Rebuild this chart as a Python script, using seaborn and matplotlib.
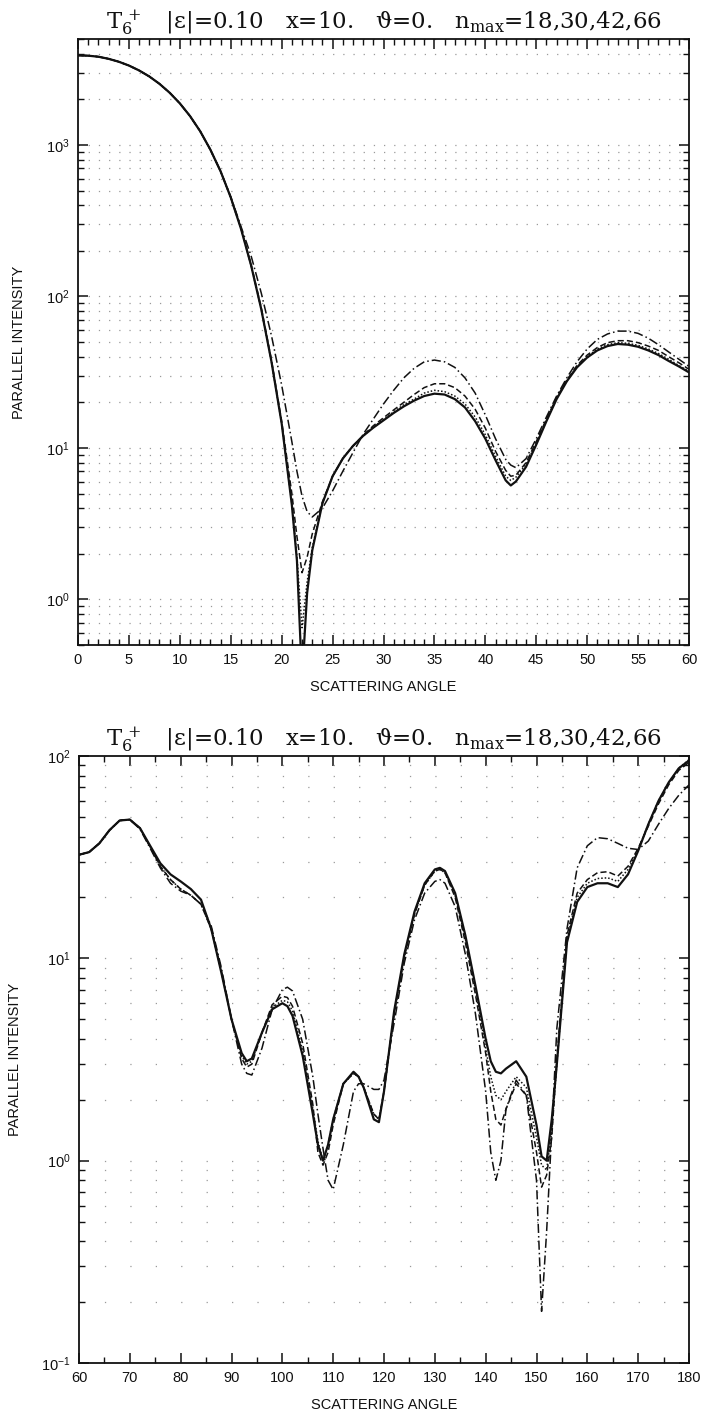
import numpy as np
import pandas as pd
import matplotlib
matplotlib.use("Agg")
import matplotlib.pyplot as plt
from matplotlib.ticker import MultipleLocator, LogLocator, NullFormatter
import seaborn as sns

# ---------------- data: top panel (0-60 deg) ----------------
ang_top = [0, 1, 2, 3, 4, 5, 6, 7, 8, 9, 10, 11, 12, 13, 14, 15, 16, 17, 18, 19, 20,
           21, 21.5, 22, 22.5, 23, 24, 25, 26, 27, 28, 29, 30, 31, 32, 33, 34, 35, 36,
           37, 38, 39, 40, 41, 42, 42.5, 43, 44, 45, 46, 47, 48, 49, 50, 51, 52, 53, 54, 55,
           56, 57, 58, 59, 60]
top_n66 = [3900, 3880, 3820, 3700, 3540, 3340, 3100, 2830, 2530, 2210, 1880, 1550, 1230,
           930, 670, 450, 280, 160, 82, 37, 14.5,
           4.2, 1.8, 0.3, 1.1, 2.1, 4.3, 6.5, 8.5, 10.3, 12, 13.6, 15.2, 17, 18.8, 20.5,
           22, 22.8, 22.5, 21, 18.5, 15, 11.5, 8.3, 6.1, 5.65, 6.0, 7.5, 10.5, 15, 21, 27.5,
           34, 39.5, 44, 47, 48.5, 48, 46.5, 44, 41, 37.5, 34.5, 31.5]
top_n42 = [3900, 3880, 3820, 3700, 3540, 3340, 3100, 2830, 2530, 2210, 1880, 1550, 1230,
           930, 670, 450, 280, 160, 82, 37, 14.5,
           4.3, 1.9, 0.65, 1.3, 2.2, 4.3, 6.5, 8.5, 10.3, 12, 13.7, 15.4, 17.3, 19.3, 21,
           23, 24, 23.5, 22, 19.5, 16, 12.2, 8.8, 6.5, 6.1, 6.4, 7.8, 10.7, 15.2, 21.3, 27.8,
           34.5, 40, 45, 48, 49.5, 49, 47.5, 45, 42, 38.5, 35, 32]
top_n30 = [3900, 3880, 3820, 3700, 3540, 3340, 3100, 2830, 2530, 2210, 1880, 1550, 1230,
           930, 670, 450, 282, 162, 84, 38, 15,
           5.0, 2.6, 1.5, 1.9, 2.7, 4.4, 6.5, 8.5, 10.3, 12.1, 14, 15.8, 17.8, 20, 22.5,
           25, 26.5, 26.5, 25, 22, 18, 13.5, 9.5, 7.1, 6.5, 6.6, 8.0, 11, 15.5, 21.5, 28,
           35, 41, 46, 49.5, 51, 51, 49.5, 47, 44, 40, 36.5, 33]
top_n18 = [3900, 3880, 3820, 3700, 3540, 3340, 3100, 2830, 2530, 2210, 1880, 1550, 1230,
           930, 670, 455, 290, 185, 105, 55, 26,
           11, 7, 4.8, 3.8, 3.5, 4.0, 5.2, 7.0, 9.3, 12.3, 15.5, 19.5, 24, 29, 33.5,
           37, 38, 37, 34, 29, 23, 16.5, 11.5, 8.4, 7.7, 7.4, 8.5, 11.5, 16, 22, 29,
           37, 45, 52, 56.5, 59, 59, 57, 53, 48, 43, 38.5, 34.5]

# ---------------- data: bottom panel (60-180 deg) ----------------
ang_bot = [60, 62, 64, 66, 68, 70, 72, 74, 76, 78, 80, 82, 84, 86, 88, 90, 92, 93, 94, 96,
           98, 100, 101, 102, 104, 106, 107, 108, 109, 110, 112, 114, 115, 116, 118, 119,
           120, 122, 124, 126, 128, 130, 131, 132, 134, 136, 138, 140, 141, 142, 143, 144,
           146, 148, 150, 151, 152, 153, 154, 156, 158, 160, 162, 164, 166, 168, 170, 172,
           174, 176, 178, 180]
bot_n66 = [32.5, 33.5, 37, 43, 48, 48.5, 44, 36, 29.5, 26, 24, 22, 19.5, 14, 8.5, 5.0, 3.4,
           3.1, 3.2, 4.3, 5.6, 6.0, 5.8, 5.2, 3.3, 1.7, 1.2, 1.0, 1.2, 1.6, 2.4, 2.75, 2.6,
           2.3, 1.6, 1.55, 2.2, 5.5, 10.5, 17, 23.5, 27.5, 28, 27, 21, 13, 7.3, 4.0, 3.1,
           2.75, 2.7, 2.85, 3.1, 2.6, 1.5, 1.05, 1.0, 1.6, 3.0, 12, 19, 22.5, 23.5, 23.5,
           22.5, 26, 34, 46, 60, 74, 87, 95]
bot_n42 = [32.5, 33.5, 37, 43, 48, 48.5, 44, 35.5, 28.5, 24.5, 22, 20.5, 18.5, 14, 8.6, 5.0, 3.3,
           3.0, 3.1, 4.3, 5.7, 6.2, 6.1, 5.5, 3.5, 1.8, 1.25, 1.0, 1.2, 1.6, 2.4, 2.7, 2.6,
           2.3, 1.7, 1.6, 2.2, 5.4, 10.3, 16.7, 23, 27, 27.5, 26.5, 20.5, 12.5, 7.0, 3.6, 2.6,
           2.1, 2.0, 2.2, 2.6, 2.3, 1.3, 0.95, 0.9, 1.4, 3.0, 12.5, 20, 23.5, 24.8, 25,
           24, 27.5, 34.5, 46, 60, 74, 87, 96]
bot_n30 = [32.5, 33.5, 37, 43, 48, 48.5, 44, 35.5, 28.5, 24.5, 22, 20.5, 18.5, 14, 8.7, 5.0, 3.2,
           2.9, 3.0, 4.3, 5.9, 6.5, 6.4, 5.8, 3.8, 1.9, 1.1, 0.95, 1.1, 1.5, 2.4, 2.7, 2.6,
           2.3, 1.7, 1.6, 2.2, 5.3, 10.2, 16.5, 23, 27, 27.5, 26.5, 20, 12, 6.6, 3.4, 2.2,
           1.6, 1.5, 1.8, 2.4, 2.1, 1.1, 0.74, 0.85, 1.3, 3.2, 13, 21, 24.5, 26.5, 26.8,
           25.5, 28.5, 35, 45, 58, 72, 85, 93]
bot_n18 = [32.5, 33.5, 37, 43, 48, 48.5, 43.5, 35, 28, 23.5, 21.5, 20.5, 18.5, 14.5, 9, 5.0, 3.0,
           2.7, 2.65, 3.6, 5.6, 7.0, 7.2, 6.9, 5.0, 2.6, 1.7, 1.15, 0.8, 0.72, 1.2, 2.2, 2.4,
           2.4, 2.25, 2.25, 2.5, 4.8, 9.5, 15.5, 21, 24, 24.5, 23.5, 18, 10.5, 5.3, 2.2, 1.1,
           0.8, 1.0, 1.8, 2.5, 2.1, 0.8, 0.18, 0.45, 1.4, 4.5, 14, 28, 36, 39.5, 39,
           37, 35, 34.5, 38, 46, 55, 64, 72]

top_title = (r'$\mathrm{T_6^{\,+}}$   |ε|=0.10   x=10.   ϑ=0.   '
             r'$\mathrm{n_{max}}$=18,30,42,66')
xlabel = 'SCATTERING ANGLE'
ylabel = 'PARALLEL INTENSITY'

series_names = ['n66', 'n42', 'n30', 'n18']
styles = {'n66': '-', 'n42': (0, (1, 1.3)), 'n30': (0, (4, 2)), 'n18': (0, (6, 2, 1, 2))}

sns.set_theme(style='ticks')
plt.rcParams['font.family'] = ['Liberation Sans', 'DejaVu Sans']
plt.rcParams['mathtext.fontset'] = 'dejavuserif'
plt.rcParams['axes.linewidth'] = 1.3

fig = plt.figure(figsize=(7.05, 14.15), dpi=100)
ax1 = fig.add_axes([78 / 705, 1 - 645 / 1415, 611 / 705, 606 / 1415])
ax2 = fig.add_axes([79 / 705, 1 - 1363 / 1415, 610 / 705, 607 / 1415])

top_df = pd.DataFrame({'angle': ang_top, 'n66': top_n66, 'n42': top_n42,
                       'n30': top_n30, 'n18': top_n18})
bot_df = pd.DataFrame({'angle': ang_bot, 'n66': bot_n66, 'n42': bot_n42,
                       'n30': bot_n30, 'n18': bot_n18})


def draw(ax, df, xlim, ylim, xmaj, xmin, dot_pt):
    ax.set_yscale('log')
    ax.set_axisbelow(True)
    for name in series_names:
        lw = 1.6 if name == 'n66' else 1.1
        sns.lineplot(data=df, x='angle', y=name, ax=ax, color='#111111',
                     linewidth=lw, linestyle=styles[name], estimator=None,
                     sort=False, legend=False)
    ax.set_xlim(*xlim)
    ax.set_ylim(*ylim)
    ax.xaxis.set_major_locator(MultipleLocator(xmaj))
    ax.xaxis.set_minor_locator(MultipleLocator(xmin))
    ax.yaxis.set_major_locator(LogLocator(base=10))
    ax.yaxis.set_minor_locator(LogLocator(base=10, subs=np.arange(2, 10)))
    ax.yaxis.set_minor_formatter(NullFormatter())
    ax.tick_params(which='both', direction='in', top=True, right=True,
                   color='#111111', labelcolor='#111111')
    ax.tick_params(which='major', length=7, width=1.1, labelsize=10.5, pad=6)
    ax.tick_params(which='minor', length=4.5, width=1.0)
    ax.grid(axis='y', which='both', color='#9a9a9a', linewidth=0.9,
            linestyle=(0, (1, dot_pt / 0.9 - 1)))
    ax.grid(axis='x', which='both', visible=False)
    ax.set_xlabel(xlabel, fontsize=10.5, labelpad=9, color='#111111')
    ax.set_ylabel(ylabel, fontsize=10.5, labelpad=14, color='#111111')
    ax.set_title(top_title, fontsize=16.5, family='DejaVu Serif', pad=7,
                 color='#111111')
    for sp in ax.spines.values():
        sp.set_color('#111111')


draw(ax1, top_df, (0, 60), (0.5, 5000), 5, 1, 611 / 60 * 0.72)
draw(ax2, bot_df, (60, 180), (0.1, 100), 10, 5, 610 / 24 * 0.72)

fig.savefig('out.png', dpi=100)
